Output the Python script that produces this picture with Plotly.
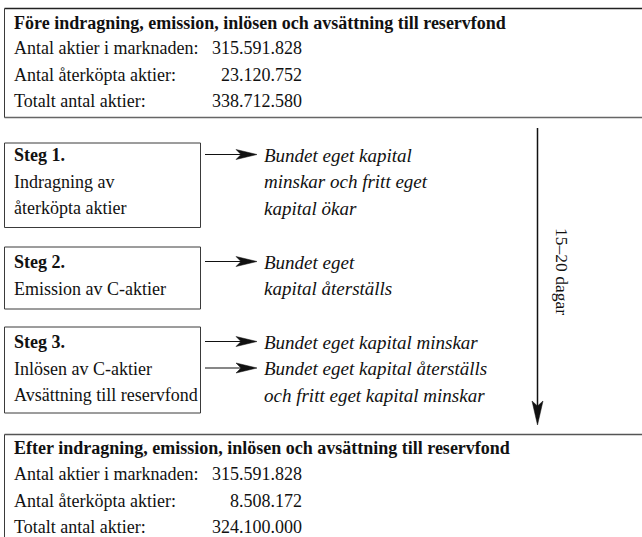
import plotly.graph_objects as go

# ---- content (text values) ----
before_title = "Före indragning, emission, inlösen och avsättning till reservfond"
after_title = "Efter indragning, emission, inlösen och avsättning till reservfond"
row_labels = ["Antal aktier i marknaden:", "Antal återköpta aktier:", "Totalt antal aktier:"]
before_values = ["315.591.828", "23.120.752", "338.712.580"]
after_values = ["315.591.828", "8.508.172", "324.100.000"]

step_titles = ["Steg 1.", "Steg 2.", "Steg 3."]
step_lines = [["Indragning av", "återköpta aktier"],
              ["Emission av C-aktier"],
              ["Inlösen av C-aktier", "Avsättning till reservfond"]]
effect_lines = [["Bundet eget kapital", "minskar och fritt eget", "kapital ökar"],
                ["Bundet eget", "kapital återställs"],
                ["Bundet eget kapital minskar", "Bundet eget kapital återställs", "och fritt eget kapital minskar"]]
# which effect lines carry an arrow
effect_arrows = [[True, False, False], [True, False], [True, True, False]]
duration_label = "15–20 dagar"

# ---- layout geometry (pixels) ----
W, H = 642, 537
FONT = "Liberation Serif"
FS = 18
FS_IT = 19
LINE = 26.5
box_left = 4.5

step_box_tops = [143, 247, 327]
step_box_bottoms = [227.5, 309, 413]
step_box_right = 200.5
first_line_y = [155, 262, 342]
text_x = 12

fig = go.Figure()
shapes = []
ann = []

def txt(x, y, s, bold=False, italic=False, xanchor="left", size=FS, angle=0):
    if bold:
        s = "<b>" + s + "</b>"
    if italic:
        s = "<i>" + s + "</i>"
    ann.append(dict(x=x, y=y, xref="x", yref="y", text=s, showarrow=False,
                    xanchor=xanchor, yanchor="middle", textangle=angle,
                    font=dict(family=FONT, size=size, color="#111")))

line_col = "#3a3a3a"

# top box
shapes.append(dict(type="line", x0=box_left, x1=W, y0=8.5, y1=8.5, line=dict(color="#222", width=1.5)))
shapes.append(dict(type="line", x0=box_left, x1=W, y0=117.5, y1=117.5, line=dict(color="#666", width=1.5)))
shapes.append(dict(type="line", x0=box_left, x1=box_left, y0=8.5, y1=117.5, line=dict(color=line_col, width=1)))
txt(text_x, 22.5, before_title, bold=True)
for i, (lab, val) in enumerate(zip(row_labels, before_values)):
    y = 48 + i * LINE
    txt(text_x, y, lab)
    txt(304, y, val, xanchor="right")

# bottom box
shapes.append(dict(type="line", x0=box_left, x1=W, y0=434.5, y1=434.5, line=dict(color="#555", width=1.5)))
shapes.append(dict(type="line", x0=box_left, x1=box_left, y0=434.5, y1=H + 2, line=dict(color=line_col, width=1)))
txt(text_x, 448, after_title, bold=True)
for i, (lab, val) in enumerate(zip(row_labels, after_values)):
    y = 474 + i * LINE
    txt(text_x, y, lab)
    txt(304, y, val, xanchor="right")

# steps
for k in range(3):
    shapes.append(dict(type="rect", x0=box_left, x1=step_box_right, y0=step_box_tops[k], y1=step_box_bottoms[k],
                       line=dict(color=line_col, width=1)))
    y0 = first_line_y[k]
    txt(text_x, y0, step_titles[k], bold=True)
    for j, s in enumerate(step_lines[k]):
        txt(text_x, y0 + (j + 1) * LINE, s)
    for j, s in enumerate(effect_lines[k]):
        y = y0 + j * LINE
        txt(262, y, s, italic=True, size=FS_IT)
        if effect_arrows[k][j]:
            ya = y - 0.5
            shapes.append(dict(type="line", x0=205, x1=246, y0=ya, y1=ya, line=dict(color="#111", width=1.2)))
            shapes.append(dict(type="path",
                               path=f"M 236 {ya-5} L 257 {ya} L 236 {ya+5} L 241 {ya} Z",
                               fillcolor="#111", line=dict(color="#111", width=0.5)))

# vertical arrow
vx = 537.5
shapes.append(dict(type="line", x0=vx, x1=vx, y0=128, y1=410, line=dict(color="#111", width=1.5)))
shapes.append(dict(type="path", path=f"M {vx-5.5} 401 L {vx} 425 L {vx+5.5} 401 L {vx} 406 Z",
                   fillcolor="#111", line=dict(color="#111", width=0.5)))
txt(562, 271, duration_label, angle=90, xanchor="center", size=17.5)

fig.update_layout(
    width=W, height=H, margin=dict(l=0, r=0, t=0, b=0),
    paper_bgcolor="white", plot_bgcolor="white",
    xaxis=dict(range=[0, W], visible=False, fixedrange=True),
    yaxis=dict(range=[H, 0], visible=False, fixedrange=True),
    shapes=shapes, annotations=ann, showlegend=False,
)
fig.write_html("out.html", config={"displayModeBar": False},
               post_script="document.body.style.margin='0';document.body.style.overflow='hidden';")
